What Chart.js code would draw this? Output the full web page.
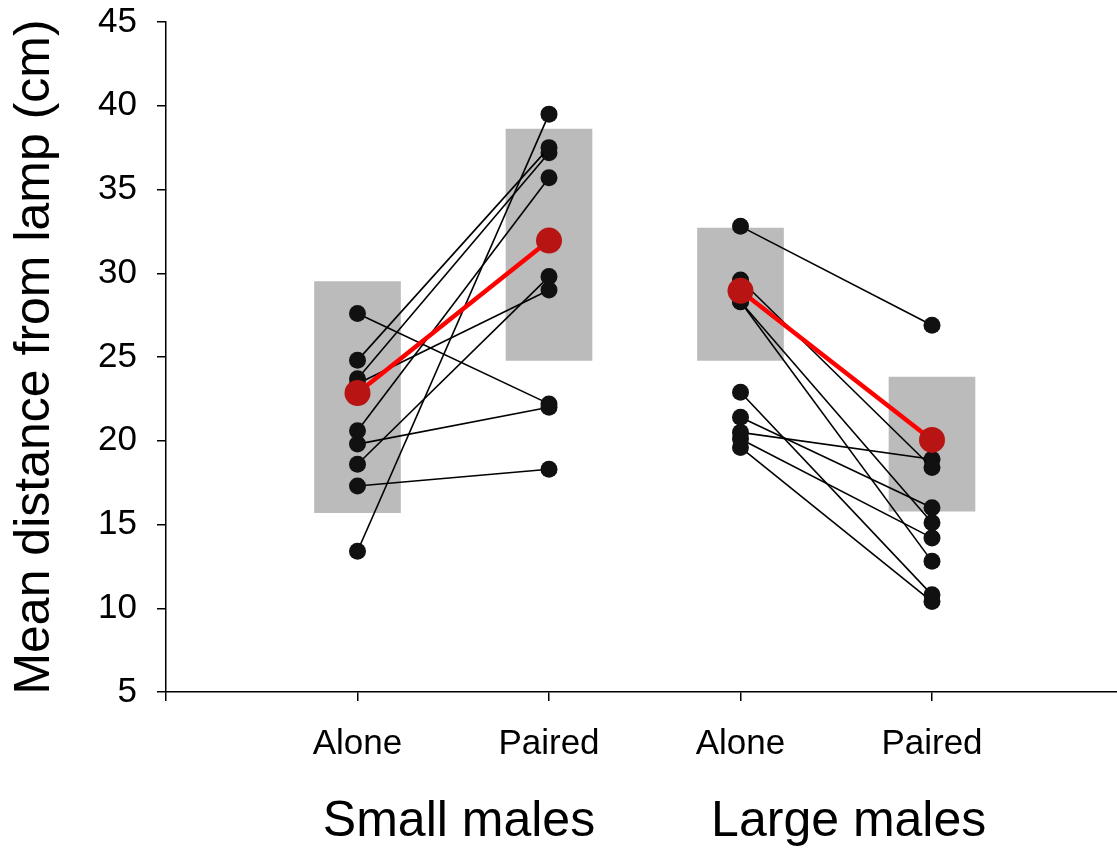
<!DOCTYPE html>
<html>
<head>
<meta charset="utf-8">
<script src="https://cdn.jsdelivr.net/npm/chart.js@4.4.1/dist/chart.umd.min.js"></script>
<style>
  html, body { margin: 0; padding: 0; background: #fff; overflow: hidden; }
  /* a bit wider than the window so the x axis runs off the right edge */
  #wrap { width: 1145px; height: 850px; position: relative; }
</style>
</head>
<body>
<div id="wrap"><canvas id="myChart"></canvas></div>
<script>
// x positions of the four conditions and their labels
const xTickValues = [0, 1, 2, 3, 4];
const xTickLabels = ['', 'Alone', 'Paired', 'Alone', 'Paired'];
const groupLabels = ['Small males', 'Large males'];

// individuals, paired by index
const smallAlone  = [27.6, 24.8, 23.7, 23.4, 20.6, 19.8, 18.6, 17.3, 13.4];
const smallPaired = [22.2, 37.5, 37.2, 29.0, 35.7, 22.0, 29.8, 18.3, 39.5];
const largeAlone  = [32.8, 29.6, 28.3, 28.3, 22.9, 21.4, 20.5, 20.1, 19.6];
const largePaired = [26.9, 18.4, 15.1, 12.8, 10.8, 16.0, 18.9, 14.2, 10.4];

// group means
const smallMeans = [22.85, 31.95];
const largeMeans = [28.95, 20.05];

// grey boxes (low, high) for each condition
const boxLow  = [15.7, 24.8, 24.8, 15.8];
const boxHigh = [29.5, 38.6, 32.7, 23.8];

const yTicks = [5, 10, 15, 20, 25, 30, 35, 40, 45];

const FONT = "'Liberation Sans', Arial, Helvetica, sans-serif";

document.addEventListener('DOMContentLoaded', function() {
    const datasets = [];

    // red means on top
    datasets.push({
        type: 'line',
        data: [{x: 1, y: smallMeans[0]}, {x: 2, y: smallMeans[1]}],
        borderColor: '#ff0000', borderWidth: 4.5,
        pointRadius: 13, pointBackgroundColor: '#b81414', pointBorderWidth: 0,
        order: 0
    });
    datasets.push({
        type: 'line',
        data: [{x: 3, y: largeMeans[0]}, {x: 4, y: largeMeans[1]}],
        borderColor: '#ff0000', borderWidth: 4.5,
        pointRadius: 13, pointBackgroundColor: '#b81414', pointBorderWidth: 0,
        order: 0
    });

    // individual lines
    function addPairs(a, b, x1, x2) {
        for (let i = 0; i < a.length; i++) {
            datasets.push({
                type: 'line',
                data: [{x: x1, y: a[i]}, {x: x2, y: b[i]}],
                borderColor: '#000', borderWidth: 1.6,
                pointRadius: 8.5, pointBackgroundColor: '#111', pointBorderWidth: 0,
                order: 1
            });
        }
    }
    addPairs(smallAlone, smallPaired, 1, 2);
    addPairs(largeAlone, largePaired, 3, 4);

    // grey boxes
    datasets.push({
        type: 'bar',
        data: [1, 2, 3, 4].map((x, i) => ({x: x, y: [boxLow[i], boxHigh[i]]})),
        backgroundColor: '#bbbbbb',
        borderWidth: 0,
        barThickness: 86,
        grouped: false,
        order: 2
    });

    // group labels under the axis
    const groupLabelPlugin = {
        id: 'groupLabels',
        afterDraw(chart) {
            const ctx = chart.ctx;
            const xs = chart.scales.x;
            const pos = [1.53, 3.565];
            ctx.save();
            ctx.fillStyle = '#000';
            ctx.font = '50px ' + FONT;
            ctx.textAlign = 'center';
            ctx.textBaseline = 'middle';
            groupLabels.forEach((t, i) => {
                ctx.fillText(t, xs.getPixelForValue(pos[i]), 822);
            });
            ctx.restore();
        }
    };

    const ctx = document.getElementById('myChart').getContext('2d');
    const chart = new Chart(ctx, {
        data: { datasets: datasets },
        options: {
            responsive: true,
            maintainAspectRatio: false,
            animation: false,
            layout: { padding: { top: 22, left: 0, right: 0, bottom: 0 } },
            plugins: {
                legend: { display: false },
                tooltip: { enabled: false }
            },
            scales: {
                x: {
                    type: 'linear',
                    offset: false,
                    min: 0,
                    max: 5,
                    afterBuildTicks: (scale) => {
                        scale.ticks = xTickValues.map(v => ({value: v}));
                    },
                    afterFit: (scale) => {
                        scale.height = 158;
                        scale.paddingLeft = 0;
                        scale.paddingRight = 0;
                    },
                    ticks: {
                        color: '#000',
                        font: { family: FONT, size: 35 },
                        padding: 22,
                        maxRotation: 0,
                        autoSkip: false,
                        callback: (v) => xTickLabels[xTickValues.indexOf(v)] || ''
                    },
                    grid: {
                        offset: false,
                        drawOnChartArea: false,
                        drawTicks: true,
                        tickLength: 9,
                        color: '#000',
                        lineWidth: 1.5
                    },
                    border: { display: true, color: '#000', width: 1.5 }
                },
                y: {
                    type: 'linear',
                    min: 5,
                    max: 45,
                    afterBuildTicks: (scale) => {
                        scale.ticks = yTicks.map(v => ({value: v}));
                    },
                    afterFit: (scale) => {
                        scale.width = 166;
                        scale.paddingTop = 0;
                        scale.paddingBottom = 0;
                    },
                    ticks: {
                        color: '#000',
                        font: { family: FONT, size: 35 },
                        padding: 20
                    },
                    grid: {
                        drawOnChartArea: false,
                        drawTicks: true,
                        tickLength: 9,
                        color: '#000',
                        lineWidth: 1.5
                    },
                    border: { display: true, color: '#000', width: 1.5 },
                    title: {
                        display: true,
                        text: 'Mean distance from lamp (cm)',
                        color: '#000',
                        font: { family: FONT, size: 50 },
                        padding: { top: 5, bottom: 0 }
                    }
                }
            }
        },
        plugins: [groupLabelPlugin]
    });

    // keep one condition step at ~191.5 px whatever width the plot area got
    const area = chart.chartArea;
    chart.options.scales.x.max = (area.right - area.left) / 191.5;
    chart.update();
});
</script>
</body>
</html>
